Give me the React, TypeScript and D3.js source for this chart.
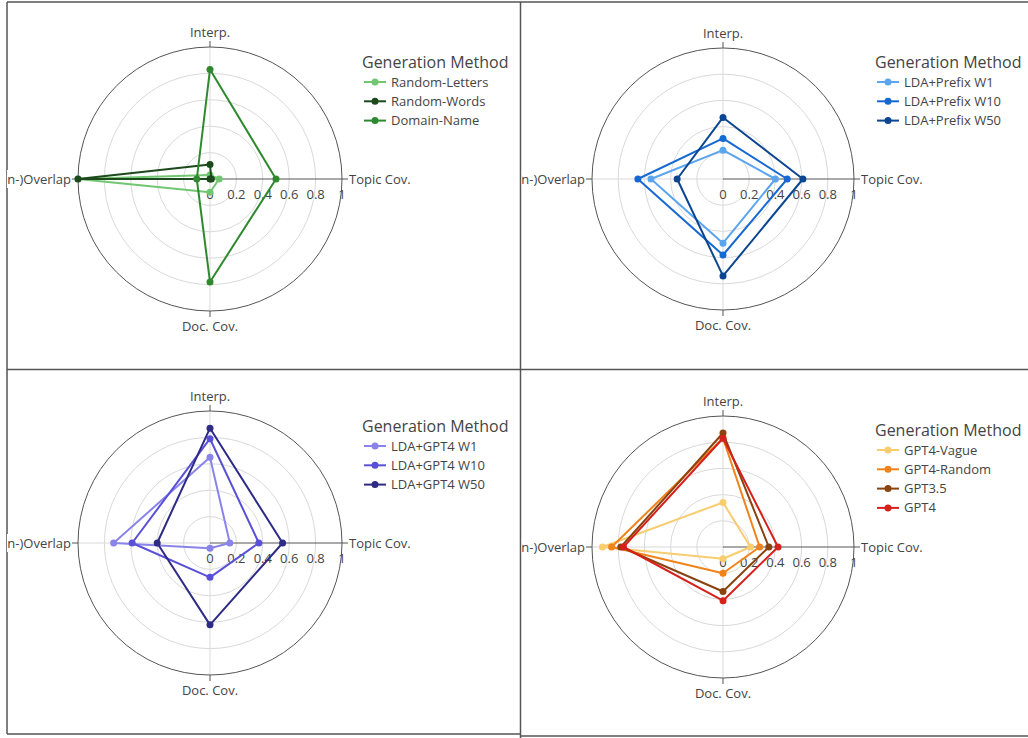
import React from "react";
import * as d3 from "d3";

// Axes of every radar, counter-clockwise starting at 3 o'clock
const axes = ["Topic Cov.", "Interp.", "(Non-)Overlap", "Doc. Cov."];
const radialTicks = [0, 0.2, 0.4, 0.6, 0.8, 1];
const legendTitle = "Generation Method";

// Values per method, in the order of `axes`
const randomLettersValues = [0.07, 0.03, 1.0, 0.1];
const randomWordsValues = [0.01, 0.11, 1.0, 0.0];
const domainNameValues = [0.5, 0.83, 0.1, 0.78];

const prefixW1Values = [0.4, 0.22, 0.55, 0.49];
const prefixW10Values = [0.49, 0.31, 0.65, 0.58];
const prefixW50Values = [0.61, 0.47, 0.35, 0.74];

const gpt4W1Values = [0.15, 0.65, 0.73, 0.04];
const gpt4W10Values = [0.37, 0.79, 0.59, 0.26];
const gpt4W50Values = [0.55, 0.87, 0.4, 0.62];

const gpt4VagueValues = [0.21, 0.34, 0.92, 0.09];
const gpt4RandomValues = [0.28, 0.83, 0.85, 0.2];
const gpt35Values = [0.35, 0.87, 0.78, 0.34];
const gpt4Values = [0.42, 0.83, 0.76, 0.41];

type Series = { name: string; values: number[]; color: string };

const baselineSeries: Series[] = [
  { name: "Random-Letters", values: randomLettersValues, color: "#72c672" },
  { name: "Random-Words", values: randomWordsValues, color: "#1c4a1c" },
  { name: "Domain-Name", values: domainNameValues, color: "#2f8a2f" },
];
const prefixSeries: Series[] = [
  { name: "LDA+Prefix W1", values: prefixW1Values, color: "#5ba4ee" },
  { name: "LDA+Prefix W10", values: prefixW10Values, color: "#1668d2" },
  { name: "LDA+Prefix W50", values: prefixW50Values, color: "#0c4690" },
];
const gpt4LdaSeries: Series[] = [
  { name: "LDA+GPT4 W1", values: gpt4W1Values, color: "#8a84ea" },
  { name: "LDA+GPT4 W10", values: gpt4W10Values, color: "#5a50d8" },
  { name: "LDA+GPT4 W50", values: gpt4W50Values, color: "#2e2b85" },
];
const llmSeries: Series[] = [
  { name: "GPT4-Vague", values: gpt4VagueValues, color: "#f8cd70" },
  { name: "GPT4-Random", values: gpt4RandomValues, color: "#f0841a" },
  { name: "GPT3.5", values: gpt35Values, color: "#8a420f" },
  { name: "GPT4", values: gpt4Values, color: "#d5201b" },
];

const FONT = "'Open Sans', 'Noto Sans', sans-serif";
const TEXT = "#444";

type PanelProps = {
  id: string;
  cx: number;
  cy: number;
  r: number;
  clipLeft: number;
  series: Series[];
};

function RadarPanel({ id, cx, cy, r, clipLeft, series }: PanelProps) {
  const rScale = d3.scaleLinear().domain([0, 1]).range([0, r]);
  // d3 radial angles are clockwise from 12 o'clock
  const angle = d3
    .scaleLinear()
    .domain([0, axes.length])
    .range([Math.PI / 2, Math.PI / 2 - 2 * Math.PI]);
  const line = d3
    .lineRadial<number>()
    .angle((_, i) => angle(i))
    .radius((v) => rScale(v))
    .curve(d3.curveLinearClosed);

  const overlapEnd = cx - r - 7;

  return (
    <g fontFamily={FONT}>
      <defs>
        <clipPath id={id}>
          <rect x={clipLeft} y={0} width={1100} height={800} />
        </clipPath>
      </defs>
      {/* grid circles */}
      {radialTicks.slice(1, -1).map((t) => (
        <circle key={t} cx={cx} cy={cy} r={rScale(t)} fill="none" stroke="#d9d9d9" strokeWidth={1} />
      ))}
      {/* angular grid lines */}
      {axes.map((a, i) => {
        if (i === 0) return null;
        const [x, y] = d3.pointRadial(angle(i), r);
        return <line key={a} x1={cx} y1={cy} x2={cx + x} y2={cy + y} stroke="#d9d9d9" strokeWidth={1} />;
      })}
      {/* radial axis line */}
      <line x1={cx} y1={cy} x2={cx + r} y2={cy} stroke="#555" strokeWidth={1} />
      {/* outer circle */}
      <circle cx={cx} cy={cy} r={r} fill="none" stroke="#555" strokeWidth={1} />
      {/* angular ticks */}
      {axes.map((a, i) => {
        const [x1, y1] = d3.pointRadial(angle(i), r);
        const [x2, y2] = d3.pointRadial(angle(i), r + 6);
        return <line key={a} x1={cx + x1} y1={cy + y1} x2={cx + x2} y2={cy + y2} stroke="#555" strokeWidth={1} />;
      })}
      {/* axis labels */}
      <text x={cx + r + 7} y={cy + 5} fontSize={13} fill={TEXT}>
        {axes[0]}
      </text>
      <text x={cx} y={cy - r - 10} fontSize={13} fill={TEXT} textAnchor="middle">
        {axes[1]}
      </text>
      <g clipPath={`url(#${id})`}>
        <rect x={clipLeft} y={cy - 9} width={overlapEnd - clipLeft + 1} height={18} fill="#fff" />
        <text x={overlapEnd} y={cy + 5} fontSize={13} fill={TEXT} textAnchor="end">
          {axes[2]}
        </text>
      </g>
      <text x={cx} y={cy + r + 20} fontSize={13} fill={TEXT} textAnchor="middle">
        {axes[3]}
      </text>
      {/* radial tick labels */}
      {radialTicks.map((t) => (
        <text key={t} x={cx + rScale(t)} y={cy + 20} fontSize={13} fill={TEXT} textAnchor="middle">
          {d3.format("~g")(t)}
        </text>
      ))}
      {/* traces */}
      {series.map((s) => (
        <g key={s.name}>
          <path
            d={line(s.values) ?? ""}
            transform={`translate(${cx},${cy})`}
            fill="none"
            stroke={s.color}
            strokeWidth={2}
            strokeLinejoin="round"
          />
          {s.values.map((v, i) => {
            const [x, y] = d3.pointRadial(angle(i), rScale(v));
            return <circle key={i} cx={cx + x} cy={cy + y} r={3.5} fill={s.color} />;
          })}
        </g>
      ))}
      {/* legend */}
      <text x={cx + 152} y={cy - 111} fontSize={16} fill={TEXT}>
        {legendTitle}
      </text>
      {series.map((s, i) => {
        const y = cy - 97 + i * 19.3;
        return (
          <g key={s.name}>
            <line x1={cx + 154} x2={cx + 176} y1={y} y2={y} stroke={s.color} strokeWidth={2} />
            <circle cx={cx + 165} cy={y} r={3.5} fill={s.color} />
            <text x={cx + 181} y={y + 4.5} fontSize={13} fill={TEXT}>
              {s.name}
            </text>
          </g>
        );
      })}
    </g>
  );
}

export default function App() {
  const border = "#555";
  return (
    <svg
      width={1028}
      height={738}
      style={{ position: "absolute", left: 0, top: 0, background: "#fff" }}
    >
      {/* panel frames */}
      <g stroke={border} strokeWidth={1.5}>
        <line x1={7} y1={2} x2={1028} y2={2} />
        <line x1={7} y1={2} x2={7} y2={734} />
        <line x1={7} y1={369.5} x2={1028} y2={369.5} />
        <line x1={520.5} y1={2} x2={520.5} y2={738} />
        <line x1={7} y1={734} x2={520.5} y2={734} />
        <line x1={520.5} y1={736} x2={1028} y2={736} />
      </g>
      <RadarPanel id="clip-a" cx={210} cy={179} r={132} clipLeft={7} series={baselineSeries} />
      <RadarPanel id="clip-b" cx={723} cy={179} r={131} clipLeft={521.5} series={prefixSeries} />
      <RadarPanel id="clip-c" cx={210} cy={543} r={132} clipLeft={7} series={gpt4LdaSeries} />
      <RadarPanel id="clip-d" cx={723} cy={547} r={131} clipLeft={521.5} series={llmSeries} />
    </svg>
  );
}
